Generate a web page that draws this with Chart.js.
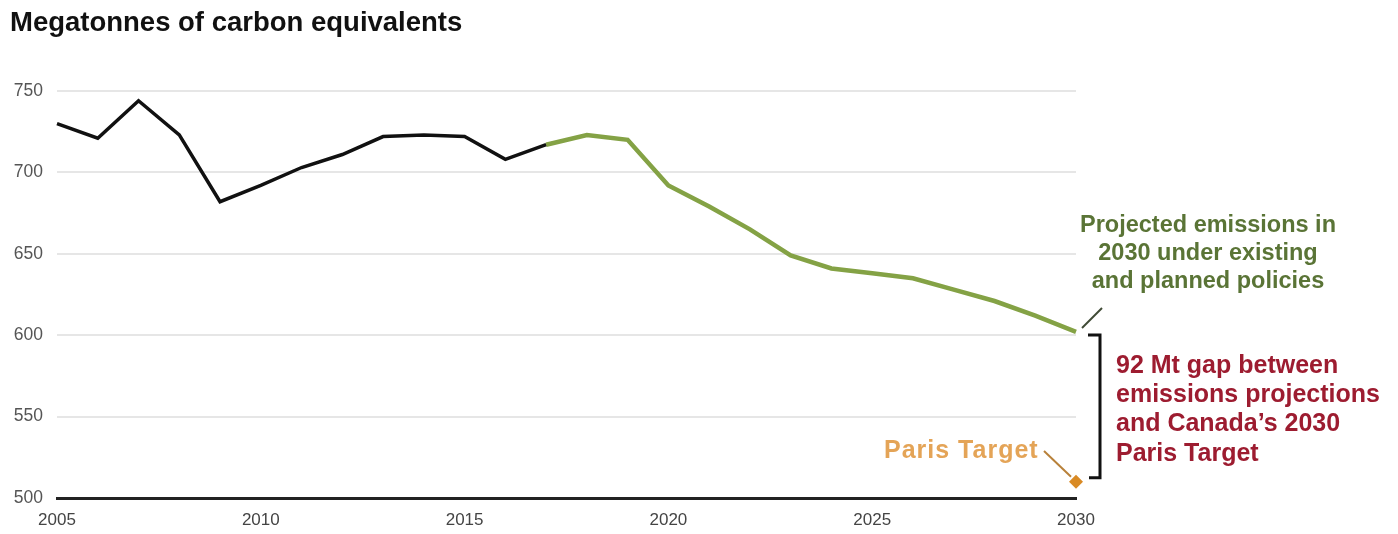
<!DOCTYPE html>
<html>
<head>
<meta charset="utf-8">
<script src="https://cdn.jsdelivr.net/npm/chart.js@4"></script>
<style>
    body { margin: 0; background: #fff; }
    #wrap { width: 1398px; height: 534px; }
</style>
</head>
<body>
<div id="wrap"><canvas id="chartEmissions"></canvas></div>
<script>
const years = [
    2005, 2006, 2007, 2008, 2009, 2010, 2011, 2012, 2013,
    2014, 2015, 2016, 2017, 2018, 2019, 2020, 2021, 2022,
    2023, 2024, 2025, 2026, 2027, 2028, 2029, 2030,
];
// historical emissions, 2005 - 2017
const historical = [730, 721, 744, 723, 682, 692, 703, 711, 722, 723, 722, 708, 717];
// projection under existing and planned policies, 2017 - 2030
const projected = [717, 723, 720, 692, 679, 665, 649, 641, 638, 635, 628, 621, 612, 602];
const parisTarget = 510;
const yTicks = [500, 550, 600, 650, 700, 750];

const fill = (arr, start) =>
    years.map((y, i) => (i >= start && i - start < arr.length ? arr[i - start] : null));

const historicalData = fill(historical, 0);
const projectedData = fill(projected, years.length - projected.length);
const targetData = years.map((y) => (y === 2030 ? parisTarget : null));

const FONT = "'Liberation Sans', Arial, Helvetica, sans-serif";

//annotations on the right side of the chart
const notesPlugin = {
    id: "notesPlugin",
    afterDraw: (chart) => {
        const ctx = chart.ctx;
        const x = chart.scales.x;
        const y = chart.scales.y;
        const xEnd = x.getPixelForValue(years.length - 1);
        const yProj = y.getPixelForValue(projected[projected.length - 1]);
        const yTarget = y.getPixelForValue(parisTarget);

        ctx.save();
        ctx.lineCap = "butt";

        // green label + leader
        ctx.fillStyle = "#5a7436";
        ctx.font = "bold 23.5px " + FONT;
        ctx.textAlign = "center";
        ctx.textBaseline = "alphabetic";
        ["Projected emissions in", "2030 under existing", "and planned policies"].forEach(
            (t, i) => ctx.fillText(t, 1208, 232 + i * 28)
        );
        ctx.strokeStyle = "#3f4a35";
        ctx.lineWidth = 2;
        ctx.beginPath();
        ctx.moveTo(xEnd + 6, yProj - 4);
        ctx.lineTo(xEnd + 26, yProj - 24);
        ctx.stroke();

        // bracket for the gap
        ctx.strokeStyle = "#111";
        ctx.lineWidth = 3;
        ctx.beginPath();
        ctx.moveTo(xEnd + 12, yProj + 3);
        ctx.lineTo(xEnd + 24, yProj + 3);
        ctx.lineTo(xEnd + 24, yTarget - 4);
        ctx.lineTo(xEnd + 13, yTarget - 4);
        ctx.stroke();

        // red label
        ctx.fillStyle = "#9d1c30";
        ctx.font = "bold 25px " + FONT;
        ctx.textAlign = "left";
        [
            "92 Mt gap between",
            "emissions projections",
            "and Canada\u2019s 2030",
            "Paris Target",
        ].forEach((t, i) => ctx.fillText(t, 1116, 373 + i * 29.2));

        // paris target label + leader
        ctx.fillStyle = "#e4a457";
        ctx.font = "bold 25px " + FONT;
        if ("letterSpacing" in ctx) ctx.letterSpacing = "1px";
        ctx.fillText("Paris Target", 884, 458);
        if ("letterSpacing" in ctx) ctx.letterSpacing = "0px";
        ctx.strokeStyle = "#b8813a";
        ctx.lineWidth = 2;
        ctx.beginPath();
        ctx.moveTo(1044, 451);
        ctx.lineTo(xEnd - 5, yTarget - 5);
        ctx.stroke();

        ctx.restore();
    },
};

const chartEmissions = new Chart(document.getElementById("chartEmissions").getContext("2d"), {
    type: "line",
    data: {
        labels: years,
        datasets: [
            {
                label: "Historical",
                data: historicalData,
                borderColor: "#111111",
                borderWidth: 3.5,
                pointRadius: 0,
                tension: 0,
            },
            {
                label: "Projected",
                data: projectedData,
                borderColor: "#84a245",
                borderWidth: 4.5,
                pointRadius: 0,
                tension: 0,
            },
            {
                label: "Paris Target",
                data: targetData,
                showLine: false,
                pointStyle: "rectRot",
                pointRadius: 7,
                pointBackgroundColor: "#d98a24",
                pointBorderWidth: 0,
                clip: false,
            },
        ],
    },
    options: {
        responsive: true,
        maintainAspectRatio: false,
        animation: false,
        layout: {
            padding: { left: 10, right: 322, top: 0, bottom: 0 },
        },
        plugins: {
            legend: { display: false },
            tooltip: { enabled: false },
            title: {
                display: true,
                text: "Megatonnes of carbon equivalents",
                align: "start",
                color: "#111",
                font: { family: FONT, size: 27.5, weight: "bold" },
                padding: { top: 7, bottom: 51 },
            },
        },
        scales: {
            x: {
                grid: { display: false, drawTicks: false },
                border: { display: true, color: "#222", width: 3 },
                offset: false,
                ticks: {
                    autoSkip: false,
                    maxRotation: 0,
                    padding: 12,
                    color: "#444",
                    font: { family: FONT, size: 17 },
                    callback: function (value, index) {
                        const yr = years[index];
                        return yr % 5 === 0 ? String(yr) : null;
                    },
                },
                afterFit: (scale) => {
                    scale.height = 36;
                },
            },
            y: {
                min: 500,
                max: 750,
                afterBuildTicks: (scale) => {
                    scale.ticks = yTicks.map((v) => ({ value: v }));
                },
                grid: { color: "#e6e6e6", lineWidth: 2, drawTicks: false },
                border: { display: false },
                ticks: {
                    padding: 14,
                    color: "#555",
                    font: { family: FONT, size: 17.5 },
                },
                afterFit: (scale) => {
                    scale.width = 47;
                },
            },
        },
    },
    plugins: [notesPlugin],
});
</script>
</body>
</html>
